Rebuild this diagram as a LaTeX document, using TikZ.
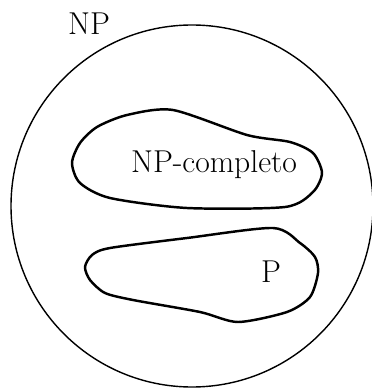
\documentclass[tikz,border=0pt]{standalone}
\usepackage{tikz}
\usetikzlibrary{positioning}

\begin{document}
\begin{tikzpicture}[
  x=0.02cm,y=-0.02cm,
  font=\fontsize{18}{21}\selectfont,
  outer/.style={draw,line width=0.8pt},
  blob/.style={draw,line width=1.4pt,line join=round},
  settext/.style={inner sep=0pt},
]
\useasboundingbox (0,0) rectangle (371,391);

% conjunto NP
\draw[outer] (192,206) circle[radius=181];
\node[settext] (np) at (89,24) {NP};

% NP-completo
\draw[blob] plot[smooth cycle,tension=0.45] coordinates {
  (173,110) (247,135) (290,142) (313,153) (322,173) (313,192)
  (285,207) (187,208) (110,198) (80,183) (72,163) (80,143)
  (97,127) (127,115)};
\node[settext] (npc) at (214,165) {NP-completo};

% P
\draw[blob] plot[smooth cycle,tension=0.45] coordinates {
  (273,228) (187,238) (110,248) (92,255) (85,267) (90,280)
  (105,293) (133,300) (200,312) (238,322) (287,312) (310,297)
  (318,273) (315,257) (300,243)};
\node[settext] (p) at (271,272) {P};

\end{tikzpicture}
\end{document}
